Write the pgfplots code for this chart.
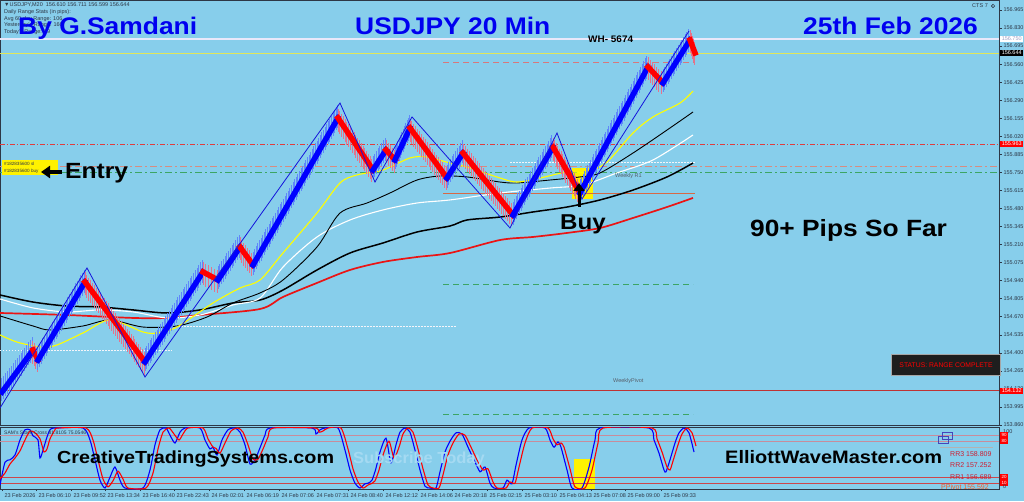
\documentclass[border=0pt]{standalone}
\usepackage{pgfplots}
\pgfplotsset{compat=1.18}
\usepackage{graphicx}
\usepackage{fontspec}
\setmainfont{Liberation Sans}
\usetikzlibrary{decorations.markings,arrows.meta}

\definecolor{bgsky}{RGB}{135,206,235}
\definecolor{barblue}{RGB}{0,0,255}
\definecolor{barred}{RGB}{255,0,0}
\definecolor{wickblue}{RGB}{95,135,250}
\definecolor{wickred}{RGB}{228,115,140}
\definecolor{axisdark}{RGB}{45,55,70}
\definecolor{titleblue}{RGB}{0,0,240}
\definecolor{mayellow}{RGB}{255,255,0}
\definecolor{mared}{RGB}{235,20,20}
\definecolor{zigblue}{RGB}{20,20,220}
\definecolor{lvred}{RGB}{225,60,60}
\definecolor{lvsalmon}{RGB}{215,140,130}
\definecolor{lvgreen}{RGB}{60,165,100}
\definecolor{lvorange}{RGB}{215,105,70}
\definecolor{lvpink}{RGB}{215,120,125}
\definecolor{lvlav}{RGB}{232,232,250}
\definecolor{bidyellow}{RGB}{225,230,90}
\definecolor{stochpink}{RGB}{200,140,155}
\definecolor{stochred}{RGB}{205,70,75}
\definecolor{statusbg}{RGB}{30,30,30}
\definecolor{faint}{RGB}{165,218,242}
\definecolor{rrred}{RGB}{205,30,50}
\definecolor{ppor}{RGB}{240,95,40}
\definecolor{lvwhite}{RGB}{245,245,250}

\tikzset{
  upbar/.style={barblue, line width=5.5pt, line cap=rect,
    preaction={decorate, decoration={markings, mark=between positions 0 and 1 step 3.2pt with {\pgftransformresetnontranslations\draw[wickblue, line width=1pt] (0pt,-9pt) -- (0pt,13pt);}}}},
  dnbar/.style={barred, line width=5.5pt, line cap=rect,
    preaction={decorate, decoration={markings, mark=between positions 0 and 1 step 3.2pt with {\pgftransformresetnontranslations\draw[wickred, line width=1pt] (0pt,-13pt) -- (0pt,9pt);}}}},
  lbl/.style={font=\fontsize{5.5}{6}\selectfont, text=axisdark, inner sep=0pt},
  bx/.style={font=\fontsize{5.5}{6}\selectfont, inner sep=0.6pt, minimum width=23pt, minimum height=6.5pt, anchor=west},
}
\newcommand\bt[3]{\scalebox{#1}[1]{\fontsize{#2}{#2}\selectfont\bfseries #3}}

\begin{document}
\begin{tikzpicture}
\useasboundingbox (0pt,0pt) rectangle (1024pt,501pt);
\fill[bgsky] (0pt,0pt) rectangle (1024pt,501pt);

% ================= MAIN PRICE PANEL =================
\begin{axis}[
  at={(0pt,76pt)}, anchor=south west,
  scale only axis, width=999pt, height=425pt,
  xmin=0, xmax=999, ymin=153.860, ymax=157.040,
  axis line style={draw=axisdark, line width=0.8pt},
  xtick=\empty,
  ytick={153.860,153.995,154.130,154.265,154.400,154.535,154.670,154.805,154.940,155.075,155.210,155.345,155.480,155.615,155.750,155.885,156.020,156.155,156.290,156.425,156.560,156.695,156.830,156.965},
  yticklabels={153.860,153.995,154.130,154.265,154.400,154.535,154.670,154.805,154.940,155.075,155.210,155.345,155.480,155.615,155.750,155.885,156.020,156.155,156.290,156.425,156.560,156.695,156.830,156.965},
  ytick pos=right, tick align=outside, major tick length=2.5pt,
  tick style={draw=axisdark, line width=0.5pt},
  yticklabel style={font=\fontsize{5.5}{6}\selectfont, text=axisdark, anchor=west, xshift=-1.5pt},
]
% yellow highlight at the buy
\fill[yellow] (axis cs:572,155.551) rectangle (axis cs:593,155.783);

% horizontal levels
\addplot[lvlav, line width=1.6pt] coordinates {(0,156.750) (999,156.750)};
\addplot[bidyellow, line width=0.6pt] coordinates {(0,156.644) (999,156.644)};
\addplot[lvred, line width=0.7pt, dash pattern=on 5pt off 2pt on 1pt off 2pt] coordinates {(0,155.963) (999,155.963)};
\addplot[lvsalmon, line width=0.9pt, dash pattern=on 7pt off 3pt on 2pt off 3pt] coordinates {(0,155.794) (999,155.794)};
\addplot[lvgreen, line width=0.9pt, dash pattern=on 7pt off 3pt on 2pt off 3pt] coordinates {(0,155.749) (999,155.749)};
\addplot[lvwhite, line width=0.6pt, dash pattern=on 1.5pt off 1.5pt] coordinates {(510,155.828) (695,155.828)};
\addplot[lvwhite, line width=0.6pt, dash pattern=on 1.5pt off 1.5pt] coordinates {(175,154.601) (456,154.601)};
\addplot[lvwhite, line width=0.6pt, dash pattern=on 1.5pt off 1.5pt] coordinates {(0,154.421) (172,154.421)};
\addplot[lvorange, line width=0.8pt] coordinates {(443,155.596) (695,155.596)};
\addplot[lvpink, line width=0.9pt, dash pattern=on 6pt off 4pt] coordinates {(443,156.576) (695,156.576)};
\addplot[lvgreen, line width=0.9pt, dash pattern=on 6pt off 4pt] coordinates {(443,154.915) (693,154.915)};
\addplot[lvgreen, line width=0.9pt, dash pattern=on 6pt off 4pt] coordinates {(443,153.939) (693,153.939)};
\addplot[lvred!85!black, line width=0.7pt] coordinates {(0,154.120) (999,154.120)};

% moving averages
\addplot[mared, line width=1.7pt, smooth] coordinates {(0,154.698) (67,154.683) (133,154.661) (167,154.661) (200,154.683) (260,154.728) (283,154.818) (317,154.923) (350,155.020) (383,155.080) (417,155.117) (450,155.147) (500,155.244) (533,155.267) (567,155.297) (600,155.334) (633,155.409) (667,155.491) (693,155.559)};
\addplot[black, line width=1.5pt, smooth] coordinates {(0,154.833) (33,154.780) (67,154.750) (100,154.743) (133,154.721) (167,154.698) (200,154.721) (233,154.773) (260,154.795) (283,154.870) (317,155.020) (350,155.147) (383,155.222) (417,155.304) (450,155.349) (467,155.394) (500,155.416) (533,155.454) (567,155.491) (600,155.544) (633,155.618) (667,155.716) (693,155.820)};
\addplot[white, line width=1.1pt, smooth] coordinates {(0,154.803) (33,154.736) (67,154.706) (100,154.721) (133,154.706) (167,154.661) (200,154.683) (233,154.758) (260,154.810) (283,155.042) (317,155.267) (350,155.394) (383,155.469) (417,155.521) (450,155.544) (500,155.596) (550,155.633) (583,155.656) (617,155.746) (653,155.843) (693,156.030)};
\addplot[black, line width=0.9pt, smooth] coordinates {(0,154.676) (33,154.601) (50,154.571) (83,154.601) (110,154.646) (143,154.593) (177,154.601) (207,154.668) (233,154.773) (260,154.848) (283,154.945) (317,155.192) (340,155.446) (367,155.521) (390,155.596) (417,155.693) (440,155.723) (467,155.716) (500,155.678) (517,155.671) (550,155.693) (580,155.716) (600,155.746) (633,155.895) (667,156.067) (693,156.202)};
\addplot[mayellow, line width=1.1pt, smooth] coordinates {(0,154.534) (20,154.474) (50,154.444) (83,154.549) (110,154.646) (143,154.556) (157,154.549) (177,154.593) (213,154.773) (240,154.885) (260,154.945) (283,155.147) (317,155.446) (340,155.671) (357,155.731) (383,155.768) (410,155.858) (427,155.865) (450,155.820) (467,155.790) (500,155.708) (517,155.678) (540,155.708) (567,155.753) (587,155.753) (607,155.828) (633,156.045) (653,156.165) (680,156.269) (693,156.359)};

% price bars (up = blue, down = red)
\addplot[upbar] coordinates {(2,154.107) (33,154.421)};
\addplot[dnbar] coordinates {(33,154.421) (38,154.346)};
\addplot[upbar] coordinates {(38,154.346) (85,154.930)};
\addplot[dnbar] coordinates {(85,154.930) (145,154.332)};
\addplot[upbar] coordinates {(145,154.332) (203,155.005)};
\addplot[dnbar] coordinates {(203,155.005) (218,154.945)};
\addplot[upbar] coordinates {(218,154.945) (240,155.192)};
\addplot[dnbar] coordinates {(240,155.192) (253,155.057)};
\addplot[upbar] coordinates {(253,155.057) (338,156.157)};
\addplot[dnbar] coordinates {(338,156.157) (373,155.768)};
\addplot[upbar] coordinates {(373,155.768) (386,155.918)};
\addplot[dnbar] coordinates {(386,155.918) (395,155.843)};
\addplot[upbar] coordinates {(395,155.843) (410,156.082)};
\addplot[dnbar] coordinates {(410,156.082) (447,155.708)};
\addplot[upbar] coordinates {(447,155.708) (463,155.895)};
\addplot[dnbar] coordinates {(463,155.895) (513,155.431)};
\addplot[upbar] coordinates {(513,155.431) (553,155.940)};
\addplot[dnbar] coordinates {(553,155.940) (580,155.596)};
\addplot[upbar] coordinates {(580,155.596) (648,156.539)};
\addplot[dnbar] coordinates {(648,156.539) (663,156.419)};
\addplot[upbar] coordinates {(663,156.419) (690,156.741)};
\addplot[dnbar] coordinates {(690,156.741) (695,156.644)};

% zigzag
\addplot[zigblue, line width=0.8pt] coordinates {(0,153.987) (87,155.035) (145,154.219) (340,156.269) (375,155.678) (412,156.165) (510,155.334) (557,156.045) (582,155.551) (689,156.808)};
\end{axis}

% ================= OSCILLATOR PANEL =================
\begin{axis}[
  at={(0pt,12pt)}, anchor=south west,
  scale only axis, width=999pt, height=62pt,
  xmin=0, xmax=999, ymin=-1.667, ymax=101.667,
  axis line style={draw=axisdark, line width=0.8pt},
  ytick=\empty,
  xtick={2,36,71,105,140,174,209,244,279,314,348,383,418,452,487,522,557,591,625,661},
  xticklabels={23 Feb 2026,23 Feb 06:10,23 Feb 09:52,23 Feb 13:34,23 Feb 16:40,23 Feb 22:43,24 Feb 02:01,24 Feb 06:19,24 Feb 07:06,24 Feb 07:31,24 Feb 08:40,24 Feb 12:12,24 Feb 14:06,24 Feb 20:18,25 Feb 02:15,25 Feb 03:10,25 Feb 04:13,25 Feb 07:08,25 Feb 09:00,25 Feb 09:33},
  xtick pos=bottom, tick align=outside, major tick length=2pt,
  tick style={draw=axisdark, line width=0.5pt},
  xticklabel style={font=\fontsize{5.5}{6}\selectfont, text=axisdark, anchor=north west, xshift=-1pt, yshift=1pt},
]
\fill[yellow] (axis cs:574,-1.667) rectangle (axis cs:595,48.3);
\addplot[stochpink, line width=0.8pt] coordinates {(0,88.33) (999,88.33)};
\addplot[stochpink, line width=0.8pt] coordinates {(0,78.33) (999,78.33)};
\addplot[stochred, line width=0.8pt] coordinates {(0,18.33) (999,18.33)};
\addplot[stochred, line width=0.8pt] coordinates {(0,8.33) (999,8.33)};
\addplot[barblue, line width=1.1pt, smooth, tension=0.4] coordinates {(0,5) (5,43) (10,47) (15,55) (20,80) (25,97) (30,97) (33,87) (38,80) (40,50) (43,63) (47,85) (50,97) (55,100) (83,100) (90,80) (95,47) (100,13) (105,0) (110,18) (115,35) (120,13) (125,0) (143,0) (150,30) (155,72) (160,97) (166,100) (170,88) (175,75) (180,93) (185,100) (200,100) (205,80) (210,65) (213,68) (217,55) (222,80) (228,97) (235,100) (240,93) (245,72) (250,40) (255,47) (260,67) (265,88) (270,100) (312,100) (316,90) (320,97) (325,100) (338,100) (345,63) (350,30) (355,8) (360,0) (365,7) (368,8) (372,13) (376,33) (380,60) (386,83) (391,42) (396,72) (400,93) (405,100) (410,93) (415,63) (420,30) (425,3) (430,0) (436,0) (440,27) (445,60) (450,78) (456,92) (462,90) (468,68) (474,47) (480,27) (485,35) (490,8) (494,0) (503,0) (507,13) (512,7) (516,38) (522,80) (529,100) (545,100) (550,80) (554,68) (558,77) (561,68) (567,30) (572,0) (582,0) (589,35) (595,80) (600,100) (649,100) (654,80) (659,58) (664,30) (666,27) (670,47) (675,75) (679,92) (684,100) (689,92) (694,60)};
\addplot[barred, line width=1.1pt, smooth, tension=0.4] coordinates {(0,15) (5,25) (10,40) (15,50) (20,62) (25,80) (30,95) (35,92) (40,82) (44,60) (47,65) (50,82) (55,97) (58,100) (86,100) (93,80) (98,47) (103,15) (108,2) (113,12) (118,28) (123,15) (128,0) (146,0) (153,25) (158,65) (163,93) (169,100) (174,90) (179,80) (183,90) (188,100) (203,100) (208,82) (213,68) (216,66) (220,58) (225,75) (231,95) (238,100) (243,93) (248,72) (253,48) (258,48) (263,65) (268,85) (273,100) (315,100) (319,93) (323,95) (328,100) (341,100) (348,65) (353,32) (358,10) (363,0) (368,5) (371,7) (375,12) (379,30) (383,55) (389,78) (394,50) (399,68) (403,90) (408,100) (413,93) (418,65) (423,32) (428,5) (433,0) (439,0) (443,22) (448,55) (453,75) (459,90) (465,88) (471,68) (477,47) (483,30) (488,32) (493,10) (497,0) (506,0) (510,10) (515,8) (519,35) (525,75) (532,100) (548,100) (553,82) (557,72) (561,75) (564,68) (570,32) (575,2) (585,0) (592,30) (598,75) (603,100) (652,100) (657,82) (662,60) (667,35) (670,30) (673,45) (678,72) (682,90) (687,100) (692,92) (696,70)};
\end{axis}

% ================= TEXT & ANNOTATIONS =================
% header info
\node[lbl, anchor=west] at (4pt,496pt) {▼USDJPY,M20\ \ 156.610 156.711 156.599 156.644};
\node[lbl, anchor=west] at (4pt,488.5pt) {Daily Range Stats (in pips):};
\node[lbl, anchor=west] at (4pt,482pt) {Avg 60-day Range: 106};
\node[lbl, anchor=west] at (4pt,475.5pt) {Yesterday's Range: 166};
\node[lbl, anchor=west] at (4pt,469pt) {Today's Range: 89};
\node[lbl, anchor=east] at (988pt,495pt) {CTS 7};
\node[circle, draw=axisdark, line width=0.4pt, inner sep=0.2pt, font=\fontsize{4}{4}\selectfont, text=axisdark] at (993pt,495pt) {i};

% titles
\node[anchor=base west, inner sep=0pt, text=titleblue] at (18pt,466pt) {\bt{1.1}{24}{By G.Samdani}};
\node[anchor=base west, inner sep=0pt, text=titleblue] at (355pt,466pt) {\bt{1.1}{24}{USDJPY 20 Min}};
\node[anchor=base west, inner sep=0pt, text=titleblue] at (803pt,466pt) {\bt{1.1}{24}{25th Feb 2026}};
\node[anchor=base west, inner sep=0pt] at (588pt,458pt) {\bt{1.05}{9.5}{WH- 5674}};

% entry
\fill[yellow] (2pt,326pt) rectangle (58pt,341pt);
\node[anchor=west, inner sep=0pt, font=\fontsize{4.6}{5}\selectfont, text=axisdark] at (4pt,337pt) {\#182835600 sl};
\node[anchor=west, inner sep=0pt, font=\fontsize{4.6}{5}\selectfont, text=axisdark] at (4pt,330pt) {\#182835600 buy};
\draw[black, line width=3.2pt, -{Triangle[length=9pt,width=12pt]}] (62pt,329pt) -- (41pt,329pt);
\node[anchor=base west, inner sep=0pt] at (65pt,322pt) {\bt{1.12}{22}{Entry}};

% buy
\draw[black, line width=3pt, -{Triangle[length=8pt,width=11pt]}] (579pt,294pt) -- (579pt,318pt);
\node[anchor=base west, inner sep=0pt] at (560pt,271pt) {\bt{1.12}{21.5}{Buy}};

\node[anchor=base west, inner sep=0pt] at (750pt,264pt) {\bt{1.12}{23.5}{90+ Pips So Far}};

\node[lbl, anchor=west, text=axisdark!80] at (615pt,325pt) {Weekly R1};
\node[lbl, anchor=west, text=axisdark!80] at (613pt,120pt) {WeeklyPivot};

% status box
\node[fill=statusbg, draw=gray!70, line width=1pt, minimum width=109pt, minimum height=21pt, anchor=north west, inner sep=0pt, font=\fontsize{6.8}{7}\selectfont, text=red] at (891pt,147pt) {STATUS: RANGE COMPLETE};

% price boxes on right axis
\node[bx, fill=white, text=blue!25!gray!60] at (1000pt,462pt) {156.750};
\node[bx, fill=black, text=white] at (1000pt,448pt) {156.644};
\node[bx, fill=red, text=white] at (1000pt,357pt) {155.963};
\node[bx, fill=red, text=white] at (1000pt,110pt) {154.132};

% oscillator panel texts
\node[lbl, anchor=west, font=\fontsize{5}{5}\selectfont] at (4pt,68pt) {SAM's Stoch Cross 81.8105 75.0546};
\node[lbl, anchor=west] at (1003pt,69pt) {100};
\node[bx, fill=red, text=white, minimum width=8pt, font=\fontsize{4.5}{5}\selectfont] at (1000pt,66pt) {90};
\node[bx, fill=red, text=white, minimum width=8pt, font=\fontsize{4.5}{5}\selectfont] at (1000pt,60pt) {80};
\node[bx, fill=red, text=white, minimum width=8pt, font=\fontsize{4.5}{5}\selectfont] at (1000pt,24pt) {20};
\node[bx, fill=red, text=white, minimum width=8pt, font=\fontsize{4.5}{5}\selectfont] at (1000pt,18pt) {10};
\node[lbl, anchor=west] at (1003pt,14pt) {0};

\node[anchor=base west, inner sep=0pt] at (57pt,38pt) {\bt{1.13}{17.5}{CreativeTradingSystems.com}};
\node[anchor=base west, inner sep=0pt, text=faint] at (353pt,38pt) {\bt{1.03}{16}{Subscribe Today}};
\node[anchor=base west, inner sep=0pt] at (725pt,38pt) {\bt{1.11}{18}{ElliottWaveMaster.com}};

\draw[blue!45!gray, line width=0.7pt] (938pt,58pt) rectangle (948pt,65pt);
\draw[blue!45!gray, line width=0.7pt] (942pt,62pt) rectangle (952pt,69pt);
\draw[gray!60, line width=0.6pt] (940pt,54pt) -- (993pt,54pt);
\node[anchor=west, inner sep=0pt, font=\fontsize{7}{7}\selectfont, text=rrred] at (950pt,47pt) {RR3 158.809};
\node[anchor=west, inner sep=0pt, font=\fontsize{7}{7}\selectfont, text=rrred] at (950pt,36pt) {RR2 157.252};
\node[anchor=west, inner sep=0pt, font=\fontsize{7}{7}\selectfont, text=rrred] at (950pt,24pt) {RR1 156.689};
\node[anchor=west, inner sep=0pt, font=\fontsize{7}{7}\selectfont, text=ppor] at (941pt,14pt) {PPivot 155.592};
\end{tikzpicture}
\end{document}
